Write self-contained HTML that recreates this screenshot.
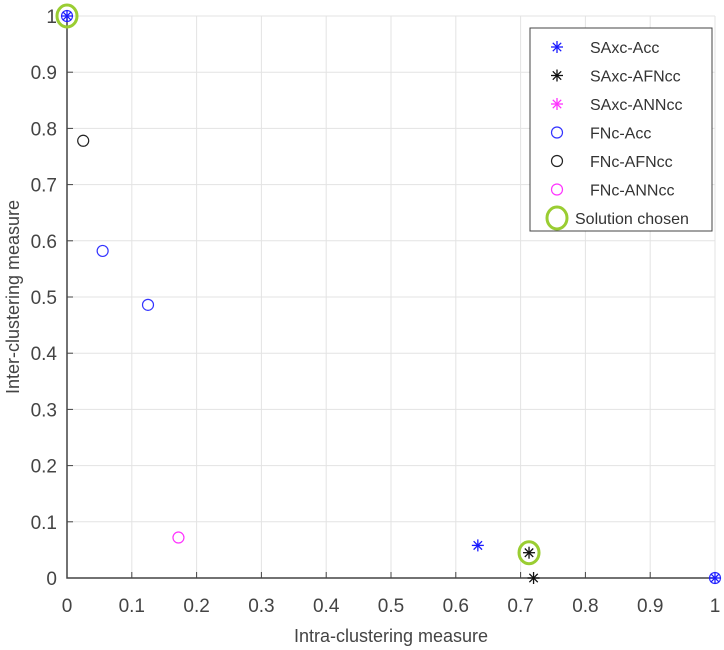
<!DOCTYPE html>
<html><head><meta charset="utf-8"><style>
body{margin:0;background:#fff;}
svg{display:block;font-family:"Liberation Sans",Arial,sans-serif;}
</style></head><body>
<svg id="chart" width="724" height="650">
<g id="grid"></g>
<g id="axes"></g>
<g id="marks"></g>
<text x="391" y="642" text-anchor="middle" font-size="18" fill="#444">Intra-clustering measure</text>
<text transform="translate(19,297) rotate(-90)" text-anchor="middle" font-size="18" fill="#444">Inter-clustering measure</text>
<g>
<rect x="530" y="28" width="182" height="203" fill="#fff" stroke="#444" stroke-width="1"/>
<g id="legend"></g>
</g>
</svg>
<script>
const xTicks=[0,0.1,0.2,0.3,0.4,0.5,0.6,0.7,0.8,0.9,1];
const yTicks=[0,0.1,0.2,0.3,0.4,0.5,0.6,0.7,0.8,0.9,1];
const xTickLabels=["0","0.1","0.2","0.3","0.4","0.5","0.6","0.7","0.8","0.9","1"];
const yTickLabels=["0","0.1","0.2","0.3","0.4","0.5","0.6","0.7","0.8","0.9","1"];
const saxcAccX=[0,0.634,1];
const saxcAccY=[1,0.058,0];
const saxcAfnccX=[0.713,0.72];
const saxcAfnccY=[0.045,0];
const fncAccX=[0,0.055,0.125,1];
const fncAccY=[1,0.582,0.486,0];
const fncAfnccX=[0.025];
const fncAfnccY=[0.778];
const fncAnnccX=[0.172];
const fncAnnccY=[0.072];
const chosenX=[0,0.713];
const chosenY=[1,0.045];
const legendLabels=["SAxc-Acc","SAxc-AFNcc","SAxc-ANNcc","FNc-Acc","FNc-AFNcc","FNc-ANNcc","Solution chosen"];

const NS="http://www.w3.org/2000/svg";
const X0=67,X1=715,Y0=578,Y1=16;
const sx=v=>X0+v*(X1-X0);
const sy=v=>Y0-v*(Y0-Y1);
function mk(t,a,p){const e=document.createElementNS(NS,t);for(const k in a)e.setAttribute(k,a[k]);p.appendChild(e);return e;}
const grid=document.getElementById('grid'),axes=document.getElementById('axes'),marks=document.getElementById('marks'),leg=document.getElementById('legend');
xTicks.forEach((v,i)=>{
 const g=mk('line',{x1:sx(v),x2:sx(v),y1:Y1,y2:Y0,stroke:'#e3e3e3'},grid);
 
 const t=mk('line',{x1:sx(v),x2:sx(v),y1:Y0,y2:Y0-6,stroke:'#444'},axes);
 
 const l=mk('text',{x:sx(v),y:Y0+34,'text-anchor':'middle','font-size':'19',fill:'#444'},axes);
 l.textContent=xTickLabels[i];
 
});
yTicks.forEach((v,i)=>{
 const g=mk('line',{x1:X0,x2:X1,y1:sy(v),y2:sy(v),stroke:'#e3e3e3'},grid);
 
 const t=mk('line',{x1:X0,x2:X0+6,y1:sy(v),y2:sy(v),stroke:'#444'},axes);
 
 const l=mk('text',{x:X0-10,y:sy(v)+7,'text-anchor':'end','font-size':'19',fill:'#444'},axes);
 l.textContent=yTickLabels[i];
 
});
const ax=mk('path',{d:`M${X0},${Y1}V${Y0}H${X1}`,stroke:'#444',fill:'none','stroke-width':'1.5'},axes);


function star(x,y,c,p){const g=mk('g',{stroke:c,'stroke-width':'1.3'},p);const r=6;
 [[0,r],[r,0],[r*0.7,r*0.7],[r*0.7,-r*0.7]].forEach(([a,b])=>mk('line',{x1:x-a,y1:y-b,x2:x+a,y2:y+b},g));return g;}
function circ(x,y,c,p){return mk('circle',{cx:x,cy:y,r:5.5,fill:'none',stroke:c,'stroke-width':'1.2'},p);}
function chosen(x,y,p){return mk('ellipse',{cx:x,cy:y,rx:10,ry:11,fill:'none',stroke:'#9acd32','stroke-width':'3'},p);}

fncAccX.forEach((v,i)=>{const e=circ(sx(v),sy(fncAccY[i]),'#3333ff',marks);});
fncAfnccX.forEach((v,i)=>{const e=circ(sx(v),sy(fncAfnccY[i]),'#222',marks);});
fncAnnccX.forEach((v,i)=>{const e=circ(sx(v),sy(fncAnnccY[i]),'#ff33ff',marks);});
saxcAccX.forEach((v,i)=>{const e=star(sx(v),sy(saxcAccY[i]),'#1a1aff',marks);});
saxcAfnccX.forEach((v,i)=>{const e=star(sx(v),sy(saxcAfnccY[i]),'#111',marks);});
chosenX.forEach((v,i)=>{const e=chosen(sx(v),sy(chosenY[i]),marks);});

const legColors=['#1a1aff','#111','#ff33ff','#3333ff','#222','#ff33ff'];
legendLabels.forEach((lab,i)=>{
 const y=47+i*28.5;
 let m;
 if(i<3)m=star(557,y,legColors[i],leg);else if(i<6)m=circ(557,y,legColors[i],leg);else m=chosen(557,y,leg);
 
 const t=mk('text',{x:i<6?590:575,y:y+6,'font-size':'16',fill:'#333'},leg);
 t.textContent=lab;
 
});
</script>
</body></html>
